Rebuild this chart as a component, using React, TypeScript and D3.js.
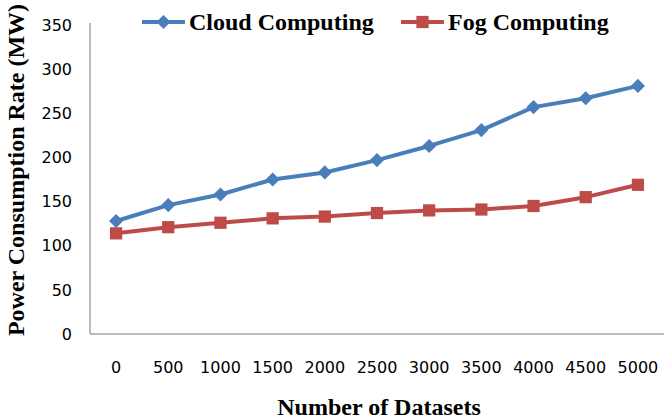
import React from 'react';
import * as d3 from 'd3';

const categories = ['0', '500', '1000', '1500', '2000', '2500', '3000', '3500', '4000', '4500', '5000'];
const cloudValues = [128, 146, 158, 175, 183, 197, 213, 231, 257, 267, 281];
const fogValues = [114, 121, 126, 131, 133, 137, 140, 141, 145, 155, 169];
const yTicks = [0, 50, 100, 150, 200, 250, 300, 350];

const W = 666;
const H = 419;
const margin = { top: 25, right: 2, bottom: 85, left: 90 };
const BLUE = '#4a7ebb';
const RED = '#be4b48';
const AXIS = '#a6a6a6';
const SERIF = '"Liberation Serif", "Times New Roman", serif';
const SANS = '"DejaVu Sans", Verdana, sans-serif';

export default function App() {
  const x = d3.scaleBand<string>()
    .domain(categories)
    .range([margin.left, W - margin.right]);
  const y = d3.scaleLinear()
    .domain([0, 350])
    .range([334, margin.top]);

  const line = d3.line<number>()
    .x((_, i) => (x(categories[i]) ?? 0) + x.bandwidth() / 2)
    .y((d) => y(d));

  const diamond = d3.symbol().type(d3.symbolSquare).size(100)() as string;
  const square = d3.symbol().type(d3.symbolSquare).size(150)() as string;

  const series = [
    { name: 'Cloud Computing', values: cloudValues, color: BLUE, marker: diamond, rotate: 45 },
    { name: 'Fog Computing', values: fogValues, color: RED, marker: square, rotate: 0 },
  ];
  const legendX = [142, 401];

  return (
    <div style={{ position: 'absolute', left: 0, top: 0 }}>
      <svg width={W} height={H} style={{ display: 'block', background: '#fff' }}>
        {/* axes */}
        <line x1={margin.left} x2={margin.left} y1={y(350) - 2} y2={y(0)} stroke={AXIS} strokeWidth={1.5} />
        <line x1={margin.left} x2={W - margin.right} y1={y(0)} y2={y(0)} stroke={AXIS} strokeWidth={1.5} />

        {yTicks.map((t) => (
          <text key={t} x={72} y={y(t)} dy="0.36em" textAnchor="end"
            fontFamily={SANS} fontSize={16} fill="#000">{t}</text>
        ))}
        {categories.map((c) => (
          <text key={c} x={(x(c) ?? 0) + x.bandwidth() / 2} y={367} dy="0.36em" textAnchor="middle"
            fontFamily={SANS} fontSize={16} fill="#000">{c}</text>
        ))}

        {/* series */}
        {series.map((s) => (
          <g key={s.name}>
            <path d={line(s.values) ?? ''} fill="none" stroke={s.color} strokeWidth={4} strokeLinejoin="round" />
            {s.values.map((v, i) => (
              <path key={i} d={s.marker} fill={s.color}
                transform={`translate(${(x(categories[i]) ?? 0) + x.bandwidth() / 2},${y(v)}) rotate(${s.rotate})`} />
            ))}
          </g>
        ))}

        {/* legend */}
        {series.map((s, i) => (
          <g key={s.name} transform={`translate(${legendX[i]},22)`}>
            <line x1={0} x2={43} y1={0} y2={0} stroke={s.color} strokeWidth={4} />
            <path d={s.marker} fill={s.color} transform={`translate(21.5,0) rotate(${s.rotate})`} />
            <text x={47} y={0} dy="0.33em" fontFamily={SERIF} fontWeight="bold" fontSize={24} fill="#000">{s.name}</text>
          </g>
        ))}

        {/* axis titles */}
        <text transform="translate(24,170) rotate(-90)" textAnchor="middle"
          fontFamily={SERIF} fontWeight="bold" fontSize={24} fill="#000">Power Consumption Rate (MW)</text>
        <text x={379} y={407} dy="0.35em" textAnchor="middle"
          fontFamily={SERIF} fontWeight="bold" fontSize={24} fill="#000">Number of Datasets</text>
      </svg>
    </div>
  );
}
